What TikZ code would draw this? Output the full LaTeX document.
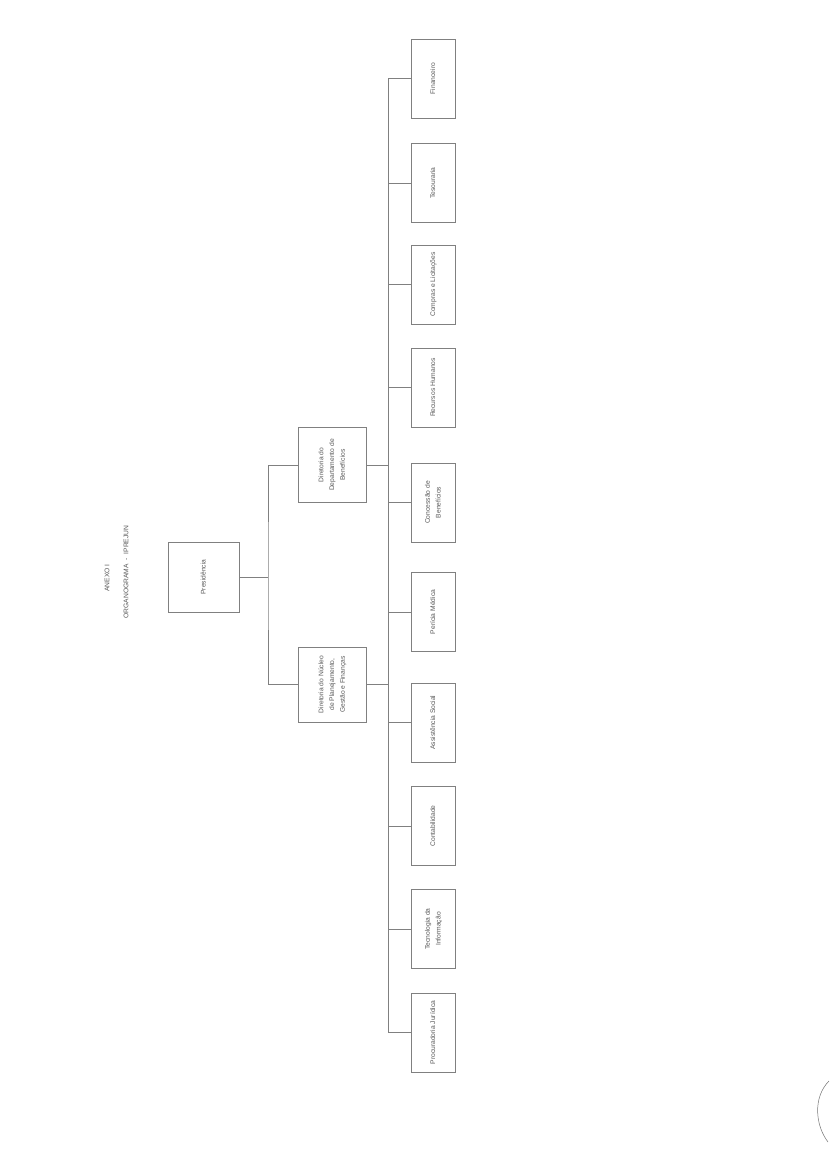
\documentclass[tikz,border=0pt]{standalone}
\usepackage{fontspec}
\setmainfont{Liberation Sans}
\usepackage{graphicx}
\newcommand{\vtext}[1]{\rotatebox{90}{\begin{tabular}{@{}c@{}}#1\end{tabular}}}
\begin{document}
\begin{tikzpicture}[x=1pt,y=-1pt,
  every node/.style={inner sep=0pt, outer sep=0pt, text=black!65,
    font=\fontsize{6.7}{10.8}\selectfont},
  box/.style={draw=black!50, line width=0.6pt, fill=white},
  leaf/.style={box, minimum width=44pt, minimum height=79pt},
  dirbox/.style={box, minimum width=68pt, minimum height=75pt},
  link/.style={draw=black!50, line width=0.6pt}]
\useasboundingbox[fill=white] (0,0) rectangle (830,1164);

% title
\node (anexo) at (107,578) {\rotatebox{90}{ANEXO I}};
\node (titulo) at (126,572) {\rotatebox{90}{ORGANOGRAMA \ - \ IPREJUN}};

% top level
\node[box, minimum width=71pt, minimum height=70pt] (pres) at (203.5,577) {\vtext{Presidência}};

% directorates
\node[dirbox] (dben) at (332,465) {\vtext{Diretoria do\\Departamento de\\Benefícios}};
\node[dirbox] (dnuc) at (332,684.5) {\vtext{Diretoria do Núcleo\\de Planejamento,\\Gestão e Finanças}};

% leaves
\node[leaf] (fin) at (433,78.5)  {\vtext{Financeiro}};
\node[leaf] (tes) at (433,183)   {\vtext{Tesouraria}};
\node[leaf] (com) at (433,284.5) {\vtext{Compras e Licitações}};
\node[leaf] (rh)  at (433,387.5) {\vtext{Recursos Humanos}};
\node[leaf] (con) at (433,502.5) {\vtext{Concessão de\\Benefícios}};
\node[leaf] (per) at (433,612)   {\vtext{Perícia Médica}};
\node[leaf] (ass) at (433,722.5) {\vtext{Assistência Social}};
\node[leaf] (ctb) at (433,826)   {\vtext{Contabilidade}};
\node[leaf] (tec) at (433,929)   {\vtext{Tecnologia da\\Informação}};
\node[leaf] (pro) at (433,1032.5){\vtext{Procuradoria Jurídica}};

% junction coordinates
\coordinate (jl) at (268,577);
\coordinate (busx) at (388,0);

% presidency to directorates
\draw[link] (pres.east) -- (jl);
\draw[link] (dben.west) -| (jl) |- (dnuc.west);

% directorates to bus
\draw[link] (dben.east) -- (dben.east -| busx);
\draw[link] (dnuc.east) -- (dnuc.east -| busx);

% bus
\draw[link] (fin.west -| busx) -- (pro.west -| busx);

% branches
\foreach \n in {fin,tes,com,rh,con,per,ass,ctb,tec,pro}
  \draw[link] (\n.west -| busx) -- (\n.west);

% scanned pen mark at lower right edge
\draw[black!55, line width=0.5pt] (829,1081) .. controls (813,1097) and (815,1125) .. (828,1142);
\end{tikzpicture}
\end{document}
